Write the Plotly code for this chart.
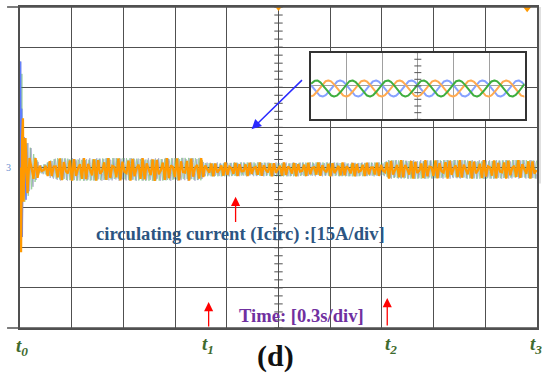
import numpy as np
import plotly.graph_objects as go

# ---------------- scope settings ----------------
TIME_PER_DIV = 0.3      # s/div
AMP_PER_DIV = 15        # A/div
N_XDIV = 10
N_YDIV = 8
T_MAX = TIME_PER_DIV * N_XDIV
A_MAX = AMP_PER_DIV * N_YDIV / 2

# ---------------- circulating current envelope ----------------
ENV_T = [0.02, 0.029, 0.058, 0.087, 0.116, 0.145, 0.174, 0.214, 1.05, 1.07, 2.115, 2.135, 3.0]
ENV_A = [14.0, 12.0, 9.0, 5.0, 1.5, 2.0, 3.2, 4.2, 4.3, 2.6, 2.6, 3.5, 3.5]
OFFSET_A = -0.7
CARRIER_HZ = 50
PHASES_DEG = [0, 120, 240]          # blue, green, orange

# start-up transient
BLUE_START_T = [0.0, 0.004, 0.007, 0.010, 0.014, 0.018]
BLUE_START_A = [0.0, 39.6, -31.0, 22.0, -26.0, 12.0]
GREEN_START_T = [0.0, 0.006, 0.011, 0.014, 0.018]
GREEN_START_A = [0.0, -20.0, 35.0, -24.0, 15.0]
ORANGE_START_T = [0.0, 0.006, 0.012, 0.017]
ORANGE_START_A = [0.0, -31.7, 10.0, 18.4]

# ---------------- inset (zoomed three-phase currents) ----------------
INSET_DIV = 6
INSET_AMP = 0.24
INSET_OFFSET = -0.075
INSET_PEAKS = {"green": 0.15, "orange": 0.483, "blue": 0.817}

COL_BLUE = "#5f7dff"
COL_GREEN = "#3aa83a"
COL_ORANGE = "#ff9900"
GRID = "#505050"

fig = go.Figure()

# centre axis graduation ticks
tick_y = np.arange(-A_MAX, A_MAX + 0.01, AMP_PER_DIV / 5)
fig.add_trace(go.Scatter(x=[T_MAX / 2] * len(tick_y), y=tick_y, mode="markers",
                         marker=dict(symbol="line-ew", size=6, line=dict(width=1, color=GRID)),
                         hoverinfo="skip", showlegend=False))


def envelope(t):
    return np.interp(t, ENV_T, ENV_A)


def wave(t0, a0, phase_deg, dt):
    t = np.arange(ENV_T[0], T_MAX, dt)
    y = OFFSET_A + envelope(t) * np.sin(2 * np.pi * CARRIER_HZ * t + np.deg2rad(phase_deg))
    return np.concatenate([t0, t]), np.concatenate([a0, y])


dt_dense = 0.0037
dt_alias = (0.5 + 0.086) / CARRIER_HZ

bx, by = wave(BLUE_START_T, BLUE_START_A, PHASES_DEG[0], dt_dense)
gx, gy = wave(GREEN_START_T, GREEN_START_A, PHASES_DEG[1], dt_dense * 1.07)
ox, oy = wave(ORANGE_START_T, ORANGE_START_A, PHASES_DEG[2], dt_alias)

fig.add_trace(go.Scatter(x=gx, y=gy, mode="lines", line=dict(color=COL_GREEN, width=1),
                         opacity=0.5, hoverinfo="skip", showlegend=False))
fig.add_trace(go.Scatter(x=bx, y=by, mode="lines", line=dict(color="#8080b0", width=1),
                         opacity=0.6, hoverinfo="skip", showlegend=False))
fig.add_trace(go.Scatter(x=bx[:12], y=by[:12], mode="lines", line=dict(color=COL_BLUE, width=1.2),
                         hoverinfo="skip", showlegend=False))
fig.add_trace(go.Scatter(x=ox, y=oy, mode="lines", line=dict(color=COL_ORANGE, width=2.3),
                         hoverinfo="skip", showlegend=False))

# trigger markers
fig.add_trace(go.Scatter(x=[T_MAX / 2, 2.943], y=[A_MAX, A_MAX - 0.5], mode="markers",
                         marker=dict(symbol="triangle-down", size=8, color=COL_ORANGE),
                         cliponaxis=False, hoverinfo="skip", showlegend=False))

# inset traces
xi = np.linspace(0, INSET_DIV, 600)
for name, col in [("blue", "#86a2ff"), ("orange", "#ffaa50"), ("green", "#3eae3e")]:
    yi = INSET_OFFSET + INSET_AMP * np.cos(2 * np.pi * (xi - INSET_PEAKS[name]))
    fig.add_trace(go.Scatter(x=xi, y=yi, mode="lines", line=dict(color=col, width=2),
                             xaxis="x2", yaxis="y2", hoverinfo="skip", showlegend=False))
iy = np.arange(-1, 1.01, 0.2)
fig.add_trace(go.Scatter(x=[INSET_DIV / 2] * len(iy), y=iy, mode="markers",
                         marker=dict(symbol="line-ew", size=5, line=dict(width=1, color="#555")),
                         xaxis="x2", yaxis="y2", hoverinfo="skip", showlegend=False))

fig.update_layout(
    width=544, height=373,
    margin=dict(l=20, r=6, t=5, b=45),
    paper_bgcolor="white", plot_bgcolor="white",
    xaxis=dict(range=[0, T_MAX], dtick=TIME_PER_DIV, tick0=0, showgrid=True, gridcolor=GRID,
               gridwidth=1.4, zeroline=False, showticklabels=False, ticks="",
               showline=True, linecolor=GRID, linewidth=1.6, mirror=True, fixedrange=True),
    yaxis=dict(range=[-A_MAX, A_MAX], dtick=AMP_PER_DIV, tick0=0, showgrid=True, gridcolor=GRID,
               gridwidth=1.4, zeroline=False, showticklabels=False, ticks="",
               showline=True, linecolor=GRID, linewidth=1.6, mirror=True, fixedrange=True),
    xaxis2=dict(domain=[0.563, 0.976], anchor="y2", range=[0, INSET_DIV], dtick=1, tick0=0,
                showgrid=True, gridcolor="#a0a0a0", gridwidth=1, zeroline=False,
                showticklabels=False, ticks="", showline=True, linecolor="#333",
                linewidth=1.5, mirror=True),
    yaxis2=dict(domain=[0.650, 0.858], anchor="x2", range=[-1, 1], dtick=1, tick0=0,
                showgrid=True, gridcolor="#a0a0a0", gridwidth=1, zeroline=False,
                showticklabels=False, ticks="", showline=True, linecolor="#333",
                linewidth=1.5, mirror=True),
)

# border extensions
for yv in (0, 1):
    fig.add_shape(type="line", xref="paper", yref="paper", x0=-0.025, x1=1, y0=yv, y1=yv,
                  line=dict(color=GRID, width=1.6))
fig.add_shape(type="line", xref="paper", yref="paper", x0=1.0058, x1=1.0058, y0=0.45, y1=1,
              line=dict(color="#c0c0c0", width=1))

SERIF = "Liberation Serif"


def px(xp, yp):
    return (xp - 20) / 518, (328 - yp) / 323


def add_text(text, xp, yp, size, color, xanchor="center"):
    x, y = px(xp, yp)
    fig.add_annotation(text=text, x=x, y=y, xref="paper", yref="paper", showarrow=False,
                       xanchor=xanchor, yanchor="middle",
                       font=dict(family=SERIF, size=size, color=color))


add_text("<b>circulating current (Icirc) :[15A/div]</b>", 241, 233, 18.6, "#2c5582")
add_text("<b>Time: [0.3s/div]</b>", 302.5, 315, 18.6, "#7030a0")
add_text("<b>(d)</b>", 276, 356, 30, "#111111")
TGREEN = "#3f6b2e"
for lab, xp, yp in [("0", 22, 347), ("1", 208, 345), ("2", 392, 345), ("3", 537, 345)]:
    add_text(f"<b><i>t<sub>{lab}</sub></i></b>", xp, yp, 19, TGREEN)
add_text("3", 8, 166, 10, "#6a8fd0")

# arrows (data coordinates)
ARROWS_RED = [(1.251, -20.98, -10.95), (1.0946, -60.0, -50.3), (2.131, -59.6, -48.8)]
for t, a_tail, a_head in ARROWS_RED:
    fig.add_annotation(x=t, y=a_head, ax=t, ay=a_tail, xref="x", yref="y", axref="x", ayref="y",
                       text="", showarrow=True, arrowhead=2, arrowsize=1.4, arrowwidth=1.3,
                       arrowcolor="#ff0000")
fig.add_annotation(x=1.344, y=14.3, ax=1.645, ay=33.2, xref="x", yref="y", axref="x", ayref="y",
                   text="", showarrow=True, arrowhead=2, arrowsize=1.3, arrowwidth=1.5,
                   arrowcolor="#2a2aff")

fig.write_html("out.html", config={"displayModeBar": False},
               post_script="document.body.style.margin='0';")
